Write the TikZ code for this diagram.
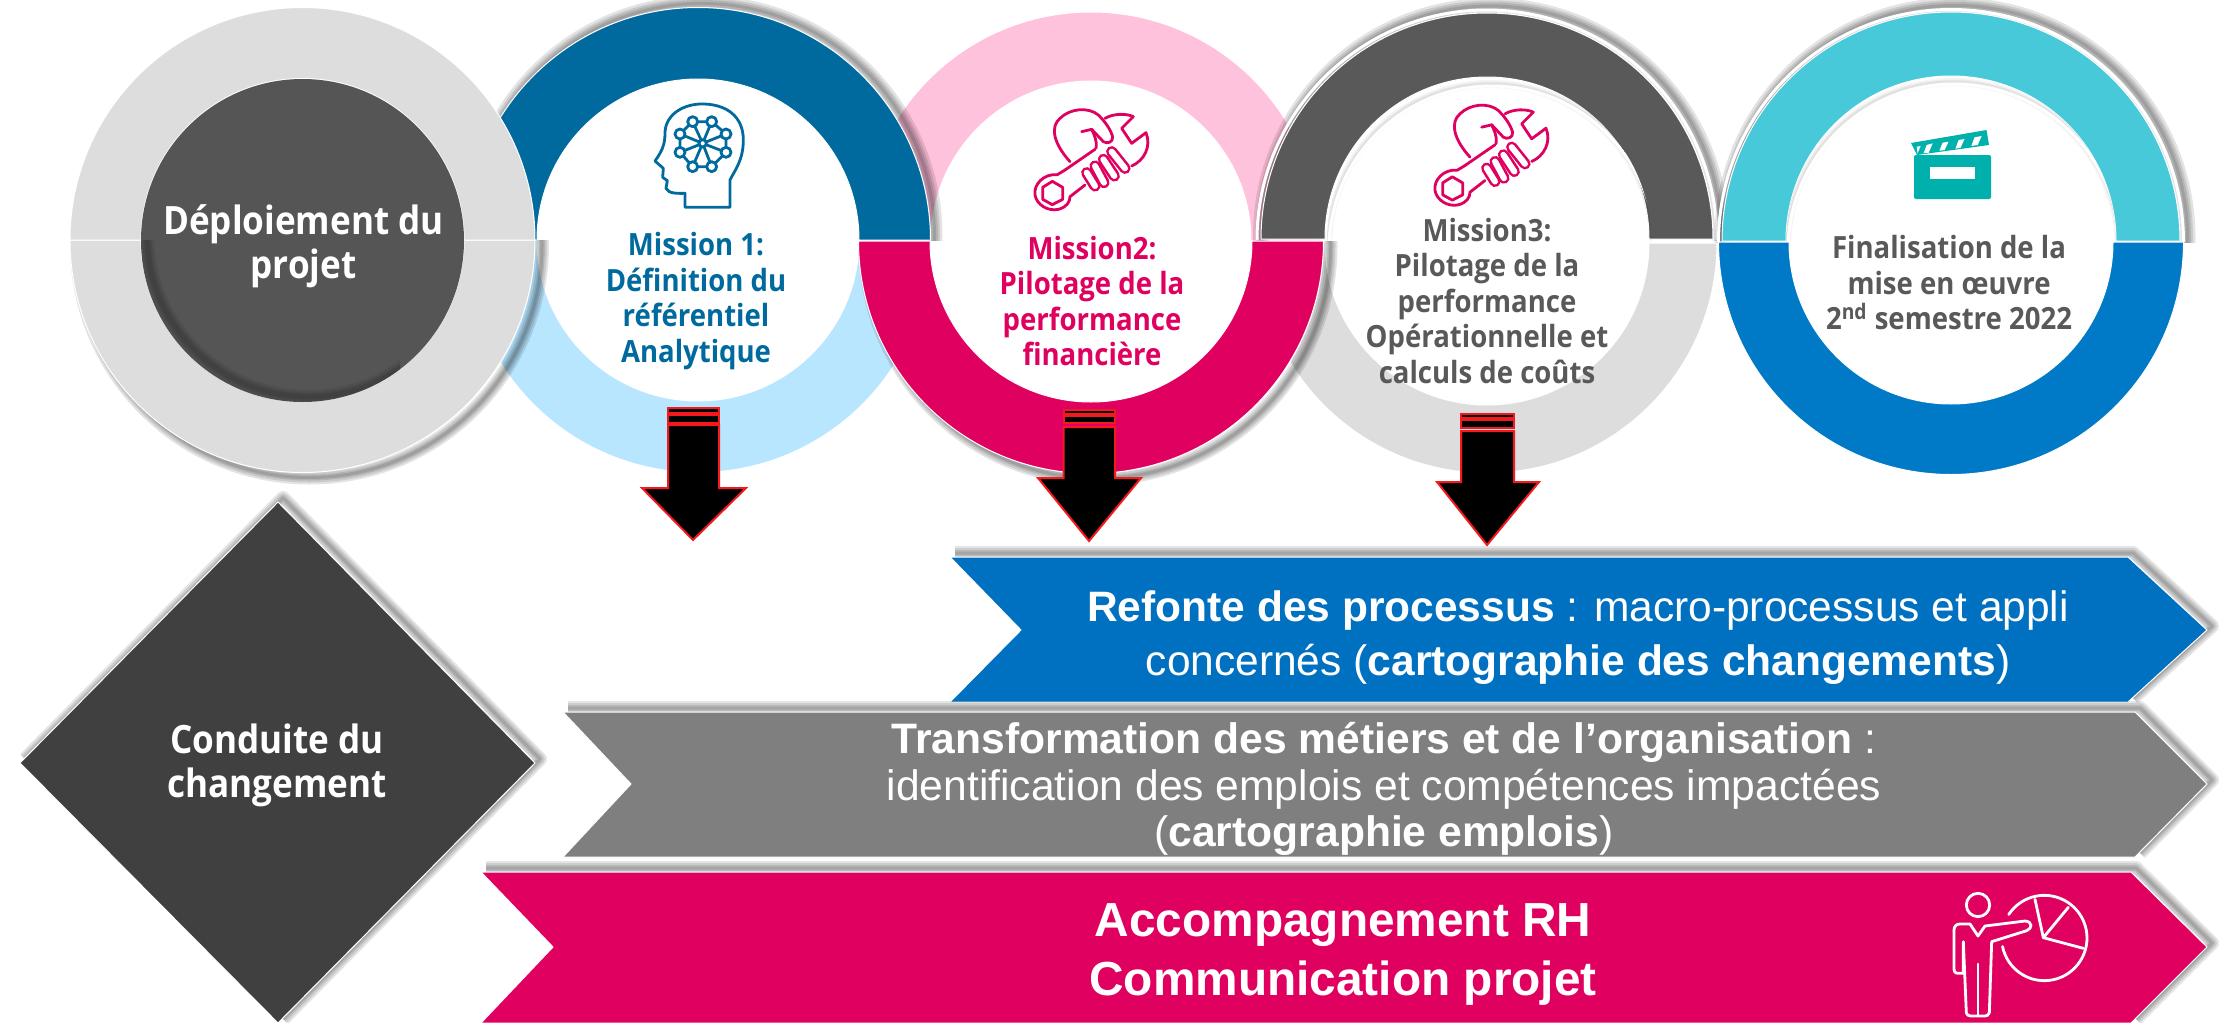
\documentclass[tikz,border=0pt]{standalone}
\usepackage{fontspec}
\setmainfont{Liberation Sans}
\newfontfamily\segoe[FakeStretch=0.9]{Open Sans}
\definecolor{ringgray}{HTML}{DDDDDD}
\definecolor{coredark}{HTML}{555555}
\definecolor{teal1}{HTML}{006A9E}
\definecolor{skyl}{HTML}{B9E6FF}
\definecolor{pinkl}{HTML}{FFC2DC}
\definecolor{magen}{HTML}{DF005F}
\definecolor{darkg}{HTML}{595959}
\definecolor{cyanl}{HTML}{48C9DA}
\definecolor{blue2}{HTML}{0079C6}
\definecolor{blue3}{HTML}{0070C0}
\definecolor{gray3}{HTML}{7F7F7F}
\definecolor{diam}{HTML}{404040}
\definecolor{clap}{HTML}{00B0AD}
\definecolor{redl}{HTML}{F5191E}
% half rings: cx cy R r colour
\newcommand{\topring}[5]{\fill[#5,draw=white,line width=0.5pt] ({#1-#3},#2) arc[start angle=180,end angle=360,radius=#3] -- ({#1+#4},#2) arc[start angle=360,end angle=180,radius=#4] -- cycle;}
\newcommand{\botring}[5]{\fill[#5,draw=white,line width=0.5pt] ({#1-#3},#2) arc[start angle=180,end angle=0,radius=#3] -- ({#1+#4},#2) arc[start angle=0,end angle=180,radius=#4] -- cycle;}
% soft shadows of the outer arc
\newcommand{\topshadow}[3]{\begin{scope}\clip ({#1-#3-30},{#2-#3-30}) rectangle ({#1+#3+30},#2);
\foreach \w in {16,11,7,3}{\draw[black,opacity=.11,line width=\w*.5pt] ({#1+4},{#2-4}) circle[radius=#3];}\end{scope}}
\newcommand{\botshadow}[3]{\begin{scope}\clip ({#1-#3-30},#2) rectangle ({#1+#3+30},{#2+#3+30});
\foreach \w in {14,10,6,3}{\draw[black,opacity=.11,line width=\w*.5pt] ({#1+7},{#2+5}) circle[radius=#3];}\end{scope}}
\newcommand{\holeshade}[3]{\begin{scope}\clip ({#1-#3},{#2-#3}) rectangle ({#1+#3},#2);\clip (#1,#2) circle[radius=#3];
\foreach \w in {8,5,3}{\draw[black,opacity=.04,line width=\w*.5pt] ({#1+2},{#2+7}) circle[radius={#3+1}];}
\draw[white,line width=1.5pt] ({#1+3},{#2+9}) circle[radius={#3+1}];\end{scope}}
\newcommand{\softpoly}[1]{\foreach \w in {14,10,6,3}{\draw[black,opacity=.1,line width=\w*.5pt,line join=round,shift={(5,-4)}] #1;}}
% block arrow: xl xr s1t s1b s2t s2b main heady hl hr tipx tipy
\newcommand{\blockarrow}[9]{\def\argA{#1}\def\argB{#2}\def\argC{#3}\def\argD{#4}\def\argE{#5}\def\argF{#6}\def\argG{#7}\def\argH{#8}\def\argI{#9}\blockarrowb}
\newcommand{\blockarrowb}[3]{\draw[arrowline] (\argA,\argC) rectangle (\argB,\argD);
\draw[arrowline] (\argA,\argE) rectangle (\argB,\argF);
\draw[arrowline] (\argA,\argG) -- (\argB,\argG) -- (\argB,\argH) -- (#1,\argH) -- (#2,#3) -- (\argI,\argH) -- (\argA,\argH) -- cycle;}
\tikzset{
  arrowline/.style={fill=black,draw=redl,line width=1pt,line join=miter},
  circtext/.style={align=center,font=\segoe\bfseries\fontsize{15.3}{17.75}\selectfont,inner sep=0pt},
  bigtext/.style={align=center,font=\segoe\bfseries\fontsize{19.5}{22}\selectfont,inner sep=0pt,text=white},
  bandtext/.style={align=center,inner sep=0pt},
  iconline/.style={line width=1.4pt,line cap=round,line join=round},
  wrenchicon/.pic={
    \begin{scope}[scale=1/3,iconline,magen]
      \draw (150,215) .. controls (100,160) and (90,110) .. (120,85) .. controls (150,55) and (205,50) .. (235,75) .. controls (255,95) and (270,115) .. (278,140) .. controls (280,158) and (260,162) .. (250,155) -- (215,118) -- (185,125);
      \draw (215,118) .. controls (222,135) and (232,150) .. (228,175);
      \draw (255,85) .. controls (280,70) and (320,70) .. (340,80) -- (305,115) -- (335,160) -- (378,128) .. controls (395,170) and (372,212) .. (335,228);
      \draw (135,240) -- (225,178);
      \draw (112,254) .. controls (70,250) and (40,285) .. (45,315) .. controls (50,345) and (85,365) .. (115,358) .. controls (140,352) and (150,335) .. (150,320) -- (195,285);
      \draw (112,254) -- (135,240);
      \draw (97,274) -- (128,292) -- (128,328) -- (97,344) -- (68,328) -- (68,292) -- cycle;
      \foreach \xa/\ya/\xb/\yb in {200/248/225/288,225/228/252/278,250/208/283/258,275/185/315/235}{
        \draw[line width=1.3pt,double=white,double distance=3pt] (\xa,\ya) -- (\xb,\yb);}
    \end{scope}}
}
\begin{document}
\begin{tikzpicture}[x=0.5pt,y=-0.5pt]
\useasboundingbox (0,0) rectangle (2224,1023);
\fill[white] (0,0) rectangle (2224,1023);
% under layers
\botring{698}{240}{232.5}{161}{skyl}
\botring{1487}{243}{230}{162}{ringgray}
\topring{1091}{241}{229}{160}{pinkl}
% dark-grey and teal arcs
\topshadow{698}{240}{232.5}
\topring{698}{240}{232.5}{161}{teal1}
\topshadow{1487}{240}{230}
\draw[white,line width=1.5pt] (1257,240) arc[start angle=180,end angle=360,radius=230];
\topring{1487}{239}{226}{162}{darkg}
\holeshade{1489}{240}{162}
% grey circle
\botshadow{302.5}{240}{232.5}
\botring{302.5}{240}{232.5}{161.5}{ringgray}
\topring{302.5}{240}{232.5}{161.5}{ringgray}
\fill[coredark] (302.5,240.5) circle[radius=161.5];
\begin{scope}\clip (302.5,240.5) circle[radius=161.5];\clip (140,240) rectangle (400,403);
\foreach \w in {14,9,5}{\draw[black,opacity=.08,line width=\w*.5pt] (308.5,235.5) circle[radius=161.5];}
\end{scope}
% magenta
\botshadow{1091}{241}{232.5}
\botring{1091}{241}{232.5}{161}{magen}
% cyan and blue
\topshadow{1951}{242}{232.5}
\draw[white,line width=1.5pt] (1718.5,242) arc[start angle=180,end angle=360,radius=232.5];
\topring{1951}{241}{229}{165}{cyanl}
\holeshade{1951}{241}{165}
\botring{1951}{242}{232.5}{162}{blue2}
% texts of circles
\node[bigtext] (t0) at (303.5,246) {Déploiement du\\projet};
\node[circtext,text=teal1] (t1) at (696,301) {Mission 1:\\Définition du\\référentiel\\Analytique};
\node[circtext,text=magen] (t2) at (1092,301) {Mission2:\\Pilotage de la\\performance\\financière};
\node[circtext,text=darkg] (t3) at (1487,301) {Mission3:\\Pilotage de la\\performance\\Opérationnelle et\\calculs de coûts};
\node[circtext,text=darkg] (t4) at (1949,283) {Finalisation de la\\mise en œuvre\\2\textsuperscript{nd} semestre 2022};
% head icon
\begin{scope}[shift={(620,90)},scale=1/3,iconline,teal1]
  \draw (195,352) -- (330,352) -- (330,270) .. controls (345,240) and (370,210) .. (370,150) .. controls (370,80) and (320,40) .. (240,42) .. controls (180,45) and (135,80) .. (135,130) .. controls (135,165) and (125,185) .. (105,213) -- (130,235) -- (128,262) -- (142,272) -- (138,295) .. controls (145,312) and (175,310) .. (195,310) -- cycle;
  \coordinate (hm) at (248,160);
  \foreach \i/\px/\py in {a/218/95,b/275/95,c/318/132,d/318/187,e/275/230,f/218/230,g/180/187,h/180/132}{
    \coordinate (h\i) at (\px,\py);
    \draw (hm) -- (h\i);}
  \draw (ha) -- (hb) (hb) -- (hc) (hc) -- (hd) (hd) -- (he) (he) -- (hf) (hf) -- (hg) (hg) -- (hh) (hh) -- (ha);
  \foreach \i in {a,b,c,d,e,f,g,h}{\draw[fill=white] (h\i) circle[radius=15];}
  \draw[fill=white] (hm) circle[radius=11];
\end{scope}
% wrench icons
\pic at (1020,90) {wrenchicon};
\pic at (1420,85.5) {wrenchicon};
% clapperboard
\fill[clap,rounded corners=1pt] (1914,155) rectangle (1991,199);
\fill[white] (1929.5,167) rectangle (1975,179);
\fill[clap] (1911,143) -- (1986.5,130) -- (1989,145) -- (1917,155) -- cycle;
\fill[white] (1926.7,145) -- (1932.7,143.3) -- (1928.7,152.7) -- (1923.5,153.3) -- cycle
 (1942.6,142.7) -- (1948.6,141.7) -- (1944.6,150) -- (1939.4,150.7) -- cycle
 (1958.6,140) -- (1964.5,139) -- (1960.6,147.7) -- (1955.4,148.7) -- cycle
 (1974.5,137.3) -- (1981.7,136) -- (1977.7,145) -- (1971.3,146) -- cycle
 (1916.7,146.7) -- (1920.7,146) -- (1917.5,153.3) -- cycle;
% block arrows
\blockarrow{668}{719}{408}{413}{415}{423}{425}{488}{642}{746}{693}{540}
\blockarrow{1063.5}{1115}{410}{414}{416}{423}{427}{478}{1038}{1141}{1089}{541}
\blockarrow{1461}{1514}{413.5}{418}{420}{427.5}{431}{482}{1437}{1539}{1487}{545}
% diamond
\softpoly{(20,763) -- (278,502) -- (535,763) -- (278,1023)}
\fill[diam,draw=white,line width=.5pt] (278,502) -- (535,763) -- (278,1023) -- (20,763) -- cycle;
\node[bigtext] (t5) at (277,765) {Conduite du\\changement};
% chevrons
\softpoly{(950,557) -- (2128,557) -- (2207,630) -- (2128,702)}
\fill[blue3,draw=white,line width=.5pt] (950,557) -- (2128,557) -- (2207,630) -- (2128,702) -- (950,702) -- (1021,630) -- cycle;
\softpoly{(563,712) -- (2135,712) -- (2207,784) -- (2135,857)}
\fill[gray3,draw=white,line width=.5pt] (563,712) -- (2135,712) -- (2207,784) -- (2135,857) -- (563,857) -- (631,784) -- cycle;
\softpoly{(481,872) -- (2131,872) -- (2207,947) -- (2131,1023)}
\fill[magen,draw=white,line width=.5pt] (481,872) -- (2131,872) -- (2207,947) -- (2131,1023) -- (481,1023) -- (553,947) -- cycle;
% band texts
\node[bandtext,text=white,font=\fontsize{21.25}{27}\selectfont] (b1) at (1578,638) {\textbf{Refonte des processus} : macro-processus et appli\\concernés (\textbf{cartographie des changements})};
\node[bandtext,text=white,font=\fontsize{21.3}{23.3}\selectfont] (b2) at (1384,789) {\textbf{Transformation des métiers et de l’organisation} :\\identification des emplois et compétences impactées\\(\textbf{cartographie emplois})};
\node[bandtext,text=white,font=\bfseries\fontsize{23.9}{29.5}\selectfont] (b3) at (1343,955) {Accompagnement RH\\Communication projet};
% presenter icon
\begin{scope}[shift={(1850,850)},scale=1/3,iconline,white]
  \draw (384,165) circle[radius=35];
  \draw (340,275) -- (340,370) -- (325,370) .. controls (315,370) and (312,365) .. (312,355) -- (312,240) .. controls (312,228) and (320,222) .. (330,222) -- (360,222) -- (384,258) -- (405,228) -- (525,213) .. controls (548,215) and (548,235) .. (530,242) -- (425,275) -- (418,488) .. controls (416,496) and (410,498) .. (405,498) -- (362,498) .. controls (354,498) and (350,494) .. (349,488) -- (340,275);
  \draw (384,342) -- (384,495);
  \coordinate (pc) at (580,263);
  \draw (583,264) ++(213.4:128) arc[start angle=213.4,end angle=528.5,radius=128];
  \draw (pc) -- (555,148) (pc) -- (655,172) (pc) -- (700,295);
\end{scope}
\end{tikzpicture}
\end{document}
